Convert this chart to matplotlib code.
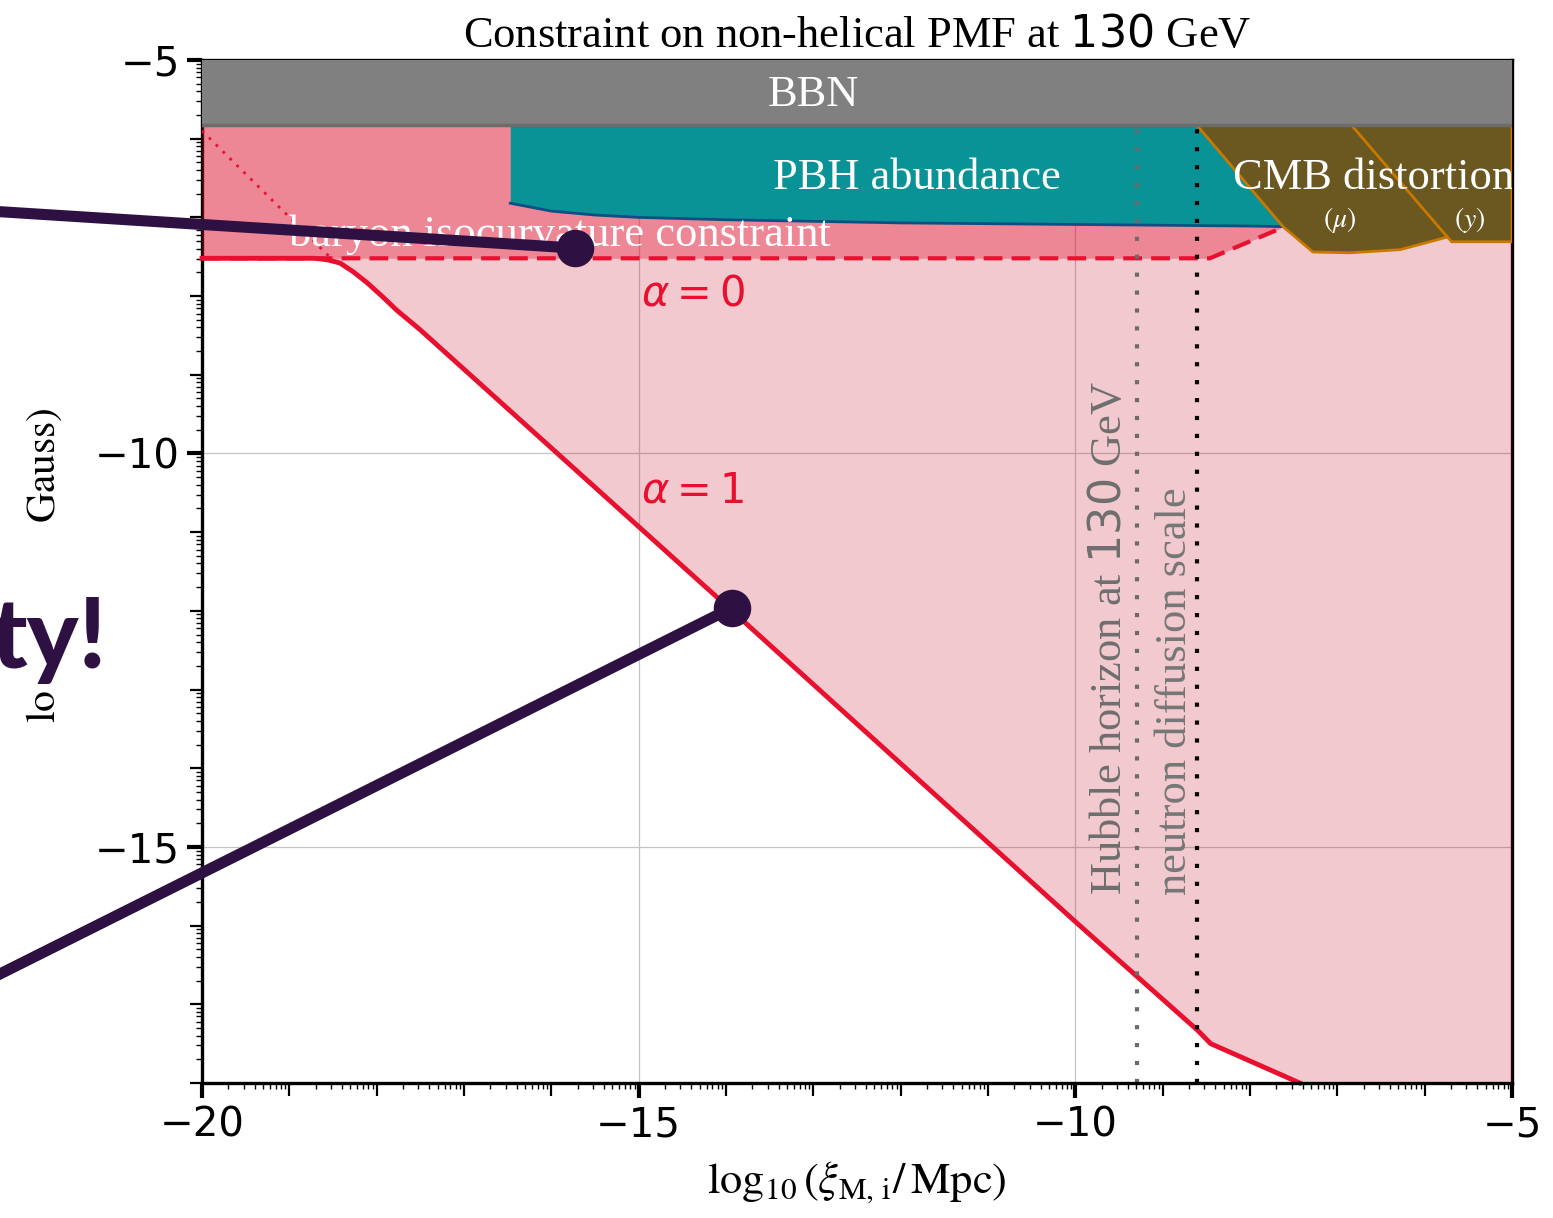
import numpy as np
import matplotlib
matplotlib.use('Agg')
import matplotlib.pyplot as plt
from matplotlib.patches import ConnectionPatch, Rectangle
from matplotlib.ticker import FixedLocator, FuncFormatter

plt.rcParams['font.family'] = ['Liberation Serif', 'DejaVu Serif']
plt.rcParams['mathtext.fontset'] = 'dejavusans'
plt.rcParams['axes.unicode_minus'] = True

# ---- data (log10 xi / Mpc, log10 B / Gauss) ----
alpha1_x = [-20.0, -18.70, -18.56, -18.42, -18.27, -18.11, -17.94, -17.77, -17.50,
            -13.93, -10.0, -8.60, -8.45, -7.43]
alpha1_y = [-7.52, -7.52, -7.54, -7.58, -7.69, -7.83, -8.00, -8.18, -8.43,
            -12.0, -15.95, -17.33, -17.50, -18.0]

alpha0_x = [-20.0, -8.46, -7.65]
alpha0_y = [-7.52, -7.52, -7.14]

pbh_x = [-16.47, -16.0, -15.5, -15.0, -14.0, -13.0, -12.0, -11.0, -10.0, -9.0, -8.0, -7.5]
pbh_y = [-6.82, -6.92, -6.97, -7.00, -7.03, -7.05, -7.07, -7.08, -7.09, -7.10, -7.11, -7.12]

cmb_x = [-8.63, -7.62, -7.28, -6.86, -6.28, -5.74, -5.69, -5.0, -5.0]
cmb_y = [-5.80, -7.12, -7.44, -7.45, -7.41, -7.25, -7.31, -7.31, -5.80]
cmb_split_x = [-6.86, -5.74]
cmb_split_y = [-5.80, -7.25]

iso_dotted_x = [-20.0, -18.45]
iso_dotted_y = [-5.90, -7.60]

bbn_bottom = -5.82
hubble_x = -9.29
neutron_x = -8.61

pointer_heads = [(-15.73, -7.39), (-13.93, -11.96)]
pointer_tails = [(-0.01, 0.827), (-0.01, 0.194)]

red = '#e8102e'

fig = plt.figure(figsize=(15.53, 12.18), dpi=100)
ax = fig.add_axes([202 / 1553, 1 - 1083 / 1218, 1310 / 1553, 1023 / 1218])
ax.set_xlim(-20, -5)
ax.set_ylim(-18, -5)

# ticks: every integer, labels every 5, log-like minor ticks in between
xmaj = np.arange(-20, -4)
ymaj = np.arange(-18, -4)
ax.xaxis.set_major_locator(FixedLocator(xmaj))
ax.yaxis.set_major_locator(FixedLocator(ymaj))
ax.xaxis.set_minor_locator(FixedLocator([n + np.log10(k) for n in range(-20, -5) for k in range(2, 10)]))
ax.yaxis.set_minor_locator(FixedLocator([n + np.log10(k) for n in range(-18, -5) for k in range(2, 10)]))
fmt = FuncFormatter(lambda v, p: '\u2212%d' % abs(round(v)) if round(v) % 5 == 0 else '')
ax.xaxis.set_major_formatter(fmt)
ax.yaxis.set_major_formatter(fmt)
ax.tick_params(which='major', direction='out', length=9, width=1.6, labelsize=29,
               pad=7, labelfontfamily='DejaVu Sans')
ax.tick_params(which='minor', direction='out', length=4.5, width=1.0)
for locs, ticks in [(xmaj, ax.xaxis.get_major_ticks(len(xmaj))),
                    (ymaj, ax.yaxis.get_major_ticks(len(ymaj)))]:
    for v, t in zip(locs, ticks):
        if v % 5 == 0:
            t.tick1line.set_markeredgewidth(3)
            t.tick1line.set_markersize(11)

for g in [-15, -10]:
    ax.axvline(g, color='#c4c4c4', lw=0.9, zorder=0.8)
    ax.axhline(g, color='#c4c4c4', lw=0.9, zorder=0.8)

for s in ['left', 'right', 'top']:
    ax.spines[s].set_zorder(0.9)
for s in ax.spines.values():
    s.set_linewidth(2.4)

# excluded regions
ax.fill_between(alpha1_x + [-5.0], alpha1_y + [-18.0], -5, color='#c40a26', alpha=0.22, lw=0, zorder=1)
ax.fill_between(alpha0_x, alpha0_y, -5, color='#e60a2b', alpha=0.35, lw=0, zorder=1.1)
ax.fill_between(pbh_x, pbh_y, -5, color='#0a9396', lw=0, zorder=1.2)
ax.plot(pbh_x, pbh_y, color='#0d4f85', lw=2, zorder=1.25)
ax.fill(cmb_x, cmb_y, facecolor='#6b5720', edgecolor='#c97800', lw=2, zorder=1.3)
ax.plot(cmb_split_x, cmb_split_y, color='#c97800', lw=2, zorder=1.31)

ax.plot(iso_dotted_x, iso_dotted_y, color=red, lw=2, ls=(0, (1, 2.5)), zorder=1.5)
ax.plot(alpha0_x, alpha0_y, color=red, lw=3, ls=(0, (4.5, 2.2)), zorder=2)
ax.plot(alpha1_x, alpha1_y, color=red, lw=3.5, zorder=2.2, clip_on=False,
        solid_joinstyle='round')

ax.axvline(hubble_x, color='#6b6b6b', lw=3, ls=(0, (1, 3.3)), zorder=2.3)
ax.axvline(neutron_x, color='black', lw=3, ls=(0, (1, 3.3)), zorder=2.3)

ax.axhspan(bbn_bottom, -5, color='#808080', lw=0, zorder=4)
ax.axhline(bbn_bottom, color='#6c6c6c', lw=2.5, zorder=4.1)

# labels inside
ax.text(-13.0, -5.45, 'BBN', color='white', fontsize=32, ha='center', va='center', zorder=5)
ax.text(-11.82, -6.5, 'PBH abundance', color='white', fontsize=32, ha='center', va='center', zorder=3)
ax.text(-8.19, -6.5, 'CMB distortion', color='white', fontsize=32, ha='left', va='center',
        zorder=3, clip_on=True)
ax.text(-6.97, -7.03, r'$(\mu)$', color='white', fontsize=20, ha='center', va='center',
        zorder=3, math_fontfamily='stix')
ax.text(-5.48, -7.03, r'$(y)$', color='white', fontsize=20, ha='center', va='center',
        zorder=3, math_fontfamily='stix')
ax.text(-19.0, -7.22, 'baryon isocurvature constraint', color='white', fontsize=32,
        ha='left', va='center', zorder=3)
ax.text(-14.38, -7.99, r'$\alpha = 0$', color=red, fontsize=30, ha='center', va='center', zorder=3)
ax.text(-14.38, -10.49, r'$\alpha = 1$', color=red, fontsize=30, ha='center', va='center', zorder=3)
ax.text(-9.60, -15.61, 'Hubble horizon at $130$ GeV', rotation=90, color='#6e6e6e',
        fontsize=32, ha='center', va='bottom', zorder=3)
ax.text(-8.86, -15.61, 'neutron diffusion scale', rotation=90, color='#777777',
        fontsize=32, ha='center', va='bottom', zorder=3)

ax.set_title('Constraint on non-helical PMF at $130$ GeV', fontsize=32, pad=9)
ax.set_xlabel(r'$\log_{10}(\xi_{\rm M,\,i}/\,{\rm Mpc})$', fontsize=32, math_fontfamily='stix')
ax.set_ylabel(r'$\log_{10}(B_{\rm M,\,i}/\;{\rm Gauss})$', fontsize=30, math_fontfamily='stix')
ax.xaxis.set_label_coords(0.5, -0.075)
ax.yaxis.set_label_coords(-0.103, 0.506)

# slide overlay: text box and pointers
fig.patches.append(Rectangle((0, 1 - 690 / 1218), 0.075, 162 / 1218, transform=fig.transFigure,
                             facecolor='white', edgecolor='none', zorder=5))
fig.text(107 / 1553, 1 - 668 / 1218, 'ty!', ha='right', va='baseline', fontsize=70,
         family=['Lato', 'DejaVu Sans'], fontweight='black', color='#2e1142', zorder=6)
for (hx, hy), tail in zip(pointer_heads, pointer_tails):
    con = ConnectionPatch(xyA=tail, coordsA=fig.transFigure, xyB=(hx, hy), coordsB=ax.transData,
                          color='#2e1142', lw=8, zorder=7)
    fig.add_artist(con)
    ax.plot([hx], [hy], 'o', color='#2e1142', ms=26, clip_on=False, zorder=10)

fig.savefig('out.png', dpi=100)
